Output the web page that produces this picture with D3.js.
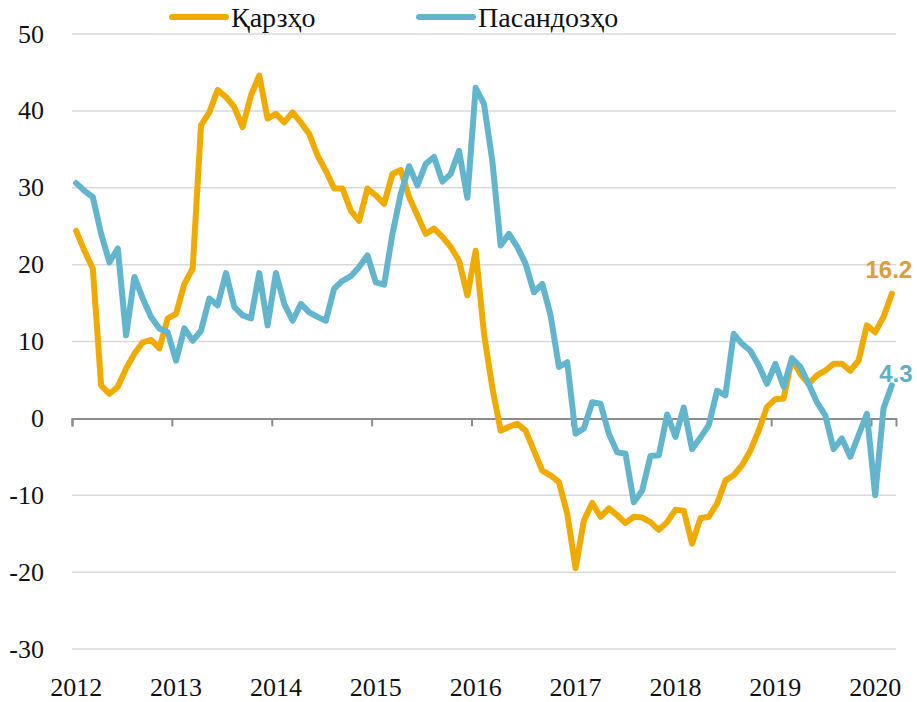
<!DOCTYPE html>
<html>
<head>
<meta charset="utf-8">
<script src="https://cdn.jsdelivr.net/npm/d3@7"></script>
<style>
  body { margin: 0; background: #fff; }
  .tick-label { font-family: "Liberation Serif", serif; font-size: 26px; fill: #111; }
  .legend-label { font-family: "Liberation Serif", serif; font-size: 28px; fill: #111; }
  .end-label { font-family: "Liberation Sans", Arial, sans-serif; font-size: 24px; font-weight: bold; }
</style>
</head>
<body>
<div id="chart_div"></div>
<script>
// monthly data, Jan 2012 .. Mar 2020
var years = ["2012", "2013", "2014", "2015", "2016", "2017", "2018", "2019", "2020"];
var yTicks = [50, 40, 30, 20, 10, 0, -10, -20, -30];
var seriesNames = ["Қарзҳо", "Пасандозҳо"];

var loans = [
  24.4, 21.8, 19.5, 4.3, 3.2, 4.1, 6.5, 8.4, 9.9, 10.2, 9.1, 13.0,
  13.6, 17.5, 19.5, 38.1, 39.8, 42.7, 41.8, 40.5, 37.9, 42.0, 44.6, 39.0,
  39.6, 38.5, 39.8, 38.5, 37.0, 34.2, 32.2, 29.9, 29.9, 27.0, 25.7, 29.9,
  29.0, 27.9, 31.8, 32.3, 28.8, 26.4, 24.0, 24.7, 23.6, 22.3, 20.5, 16.0,
  21.8, 11.0, 4.0, -1.6, -1.1, -0.7, -1.6, -4.2, -6.8, -7.4, -8.3, -12.4,
  -19.5, -13.3, -11.0, -12.8, -11.7, -12.6, -13.6, -12.8, -12.9, -13.5, -14.5, -13.5,
  -11.9, -12.0, -16.3, -13.0, -12.8, -11.1, -8.1, -7.4, -6.1, -4.2, -1.6, 1.5,
  2.5, 2.6, 7.8, 5.8, 4.5, 5.6, 6.2, 7.1, 7.1, 6.2, 7.5, 12.1,
  11.2, 13.2, 16.2
];

var deposits = [
  30.6, 29.6, 28.8, 24.0, 20.3, 22.1, 10.8, 18.4, 15.6, 13.2, 11.7, 11.2,
  7.5, 11.7, 10.1, 11.4, 15.6, 14.7, 18.9, 14.5, 13.4, 13.0, 18.9, 12.1,
  18.9, 14.9, 12.7, 14.9, 13.8, 13.2, 12.7, 16.9, 17.9, 18.5, 19.7, 21.2,
  17.7, 17.4, 24.0, 29.2, 32.8, 30.3, 33.1, 34.0, 30.8, 31.8, 34.8, 28.7,
  43.0, 40.9, 33.5, 22.5, 24.0, 22.3, 20.1, 16.4, 17.5, 13.4, 6.7, 7.3,
  -2.0, -1.3, 2.1, 1.9, -2.0, -4.4, -4.6, -10.9, -9.4, -4.9, -4.8, 0.5,
  -2.4, 1.4, -4.0, -2.5, -0.9, 3.6, 3.0, 11.0, 9.7, 8.8, 6.9, 4.5,
  7.1, 4.1, 7.8, 6.7, 4.5, 2.1, 0.4, -4.0, -2.6, -5.0, -2.2, 0.6,
  -10.0, 1.3, 4.3
];

var colors = ["#F0AB00", "#62B5CD"];
var labelColors = ["#DB9D3E", "#5EAFC3"];

var width = 917, height = 702;
var svg = d3.select("#chart_div").append("svg")
    .attr("width", width)
    .attr("height", height);

var x = d3.scaleBand()
    .domain(d3.range(loans.length))
    .range([72, 896]);
var xc = function(i){ return x(i) + x.bandwidth() / 2; };

var y = d3.scaleLinear()
    .domain([-30, 50])
    .range([649, 34]);

// gridlines
svg.append("g")
    .selectAll("line")
    .data(yTicks.filter(function(d){ return d != 0; }))
    .enter().append("line")
    .attr("x1", 72).attr("x2", 896)
    .attr("y1", function(d){ return y(d); })
    .attr("y2", function(d){ return y(d); })
    .attr("stroke", "#d9d9d9")
    .attr("stroke-width", 1.5);

// y labels
svg.append("g")
    .selectAll("text")
    .data(yTicks)
    .enter().append("text")
    .attr("class", "tick-label")
    .attr("x", 44)
    .attr("y", function(d){ return y(d); })
    .attr("dy", "0.33em")
    .attr("text-anchor", "end")
    .text(function(d){ return d; });

// zero axis with year ticks
var yearIdx = years.map(function(d, k){ return k * 12; });
var xAxis = d3.axisBottom(d3.scaleLinear().domain([0, loans.length]).range([72, 896]))
    .tickValues(yearIdx)
    .tickSize(8)
    .tickFormat("");
var ax = svg.append("g")
    .attr("transform", "translate(0," + y(0) + ")")
    .call(xAxis);
ax.select(".domain").attr("stroke", "#8c8c8c").attr("stroke-width", 2);
ax.selectAll(".tick line").attr("stroke", "#8c8c8c").attr("stroke-width", 2);

// year labels at the bottom
svg.append("g")
    .selectAll("text")
    .data(years)
    .enter().append("text")
    .attr("class", "tick-label")
    .attr("x", function(d, k){ return xc(k * 12); })
    .attr("y", 696)
    .attr("text-anchor", "middle")
    .text(function(d){ return d; });

// lines
var line = d3.line()
    .x(function(d, i){ return xc(i); })
    .y(function(d){ return y(d); });

[loans, deposits].forEach(function(s, k){
    svg.append("path")
        .datum(s)
        .attr("fill", "none")
        .attr("stroke", colors[k])
        .attr("stroke-width", 6)
        .attr("stroke-linejoin", "round")
        .attr("stroke-linecap", "round")
        .attr("d", line);
});

// end labels
var last = loans.length - 1;
svg.append("text")
    .attr("class", "end-label")
    .attr("x", xc(last) - 3)
    .attr("y", y(loans[last]) - 16)
    .attr("text-anchor", "middle")
    .attr("fill", labelColors[0])
    .text(loans[last].toFixed(1));
svg.append("text")
    .attr("class", "end-label")
    .attr("x", xc(last) + 4)
    .attr("y", y(deposits[last]) - 3)
    .attr("text-anchor", "middle")
    .attr("fill", labelColors[1])
    .text(deposits[last].toFixed(1));

// legend
var legendX = [172, 419];
var lg = svg.append("g");
seriesNames.forEach(function(name, k){
    lg.append("line")
        .attr("x1", legendX[k]).attr("x2", legendX[k] + 54)
        .attr("y1", 17).attr("y2", 17)
        .attr("stroke", colors[k])
        .attr("stroke-width", 6)
        .attr("stroke-linecap", "round");
    lg.append("text")
        .attr("class", "legend-label")
        .attr("x", legendX[k] + 59)
        .attr("y", 27)
        .text(name);
});
</script>
</body>
</html>
